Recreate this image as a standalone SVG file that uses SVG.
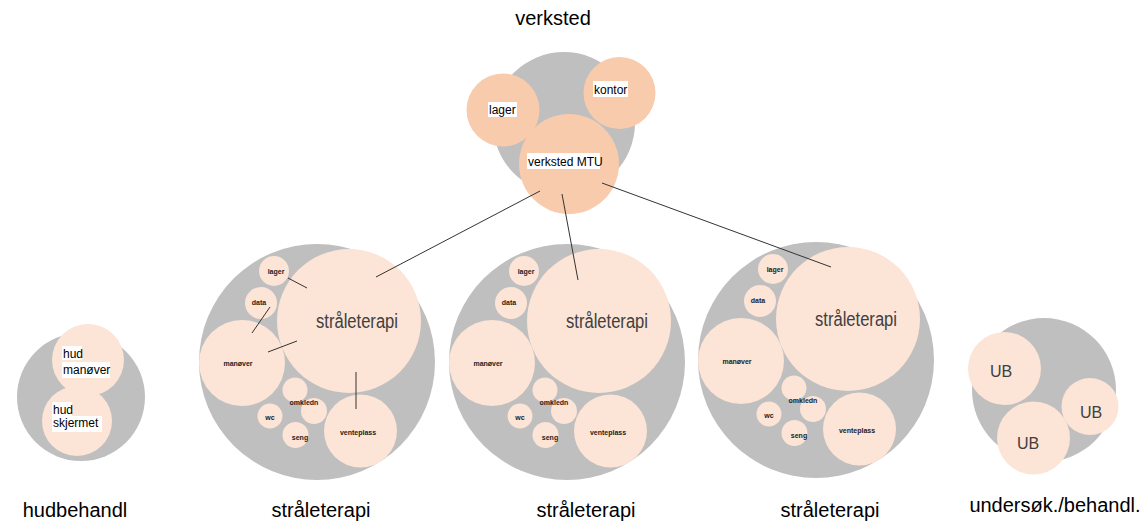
<svg xmlns="http://www.w3.org/2000/svg" width="1144" height="524" viewBox="0 0 1144 524">
<style>
.g{fill:#bfbfbf}
.p1{fill:#f8cbad}
.p2{fill:#fce4d6}
.t{font-family:"Liberation Sans",Arial,sans-serif;fill:#000}
.title{font-size:20px;text-anchor:middle}
.lab{font-size:12px}
.sm{font-size:7px;font-weight:bold;text-anchor:middle;fill:#222}
.big{font-size:20px;text-anchor:middle;fill:#404040}
.ub{font-size:16px;text-anchor:middle;fill:#404040}
.bg{fill:#fff}
.c{stroke:#333;stroke-width:1;fill:none}
</style>
<defs>
<g id="cl">
<circle class="g" cx="317" cy="362" r="118"/>
<circle class="p2" cx="349" cy="321" r="72"/>
<circle class="p2" cx="274" cy="271" r="15"/>
<circle class="p2" cx="261" cy="303" r="16"/>
<circle class="p2" cx="242" cy="363" r="43"/>
<circle class="p2" cx="295" cy="390" r="12.5"/>
<circle class="p2" cx="314" cy="411" r="13"/>
<circle class="p2" cx="270" cy="416" r="12.5"/>
<circle class="p2" cx="295.5" cy="435" r="13"/>
<circle class="p2" cx="360.5" cy="431" r="36.5"/>
<text class="t big" x="357" y="328" textLength="82" lengthAdjust="spacingAndGlyphs">stråleterapi</text>
<text class="t sm" x="276" y="274">lager</text>
<text class="t sm" x="259" y="305">data</text>
<text class="t sm" x="238" y="366">manøver</text>
<text class="t sm" x="304" y="405">omkledn</text>
<text class="t sm" x="270" y="420">wc</text>
<text class="t sm" x="300" y="440">seng</text>
<text class="t sm" x="358" y="435">venteplass</text>
</g>
</defs>
<text class="t title" x="553" y="25">verksted</text>
<g id="verksted">
<circle class="g" cx="564" cy="123" r="71"/>
<circle class="p1" cx="503" cy="110" r="36.5"/>
<circle class="p1" cx="619.5" cy="93" r="36"/>
<circle class="p1" cx="569" cy="164" r="50"/>
<rect class="bg" x="488" y="102" width="29" height="15"/>
<text class="t lab" x="489" y="114">lager</text>
<rect class="bg" x="593" y="81" width="35" height="16"/>
<text class="t lab" x="594" y="94">kontor</text>
<rect class="bg" x="527" y="153" width="73" height="16"/>
<text class="t lab" x="528" y="166">verksted MTU</text>
</g>
<g id="hudbehandl">
<circle class="g" cx="81" cy="397" r="64"/>
<circle class="p2" cx="88" cy="360" r="36"/>
<circle class="p2" cx="77" cy="421" r="35"/>
<rect class="bg" x="62" y="346" width="20" height="14"/>
<rect class="bg" x="62" y="362" width="48" height="16"/>
<text class="t lab" x="63" y="358">hud</text>
<text class="t lab" x="63" y="374">manøver</text>
<rect class="bg" x="52" y="402" width="20" height="14"/>
<rect class="bg" x="52" y="416" width="50" height="16"/>
<text class="t lab" x="53" y="414">hud</text>
<text class="t lab" x="53" y="427">skjermet</text>
<text class="t title" x="75" y="517">hudbehandl</text>
</g>
<g id="straleterapi1">
<use href="#cl"/>
<text class="t title" x="321" y="517">stråleterapi</text>
</g>
<g id="straleterapi2">
<use href="#cl" transform="translate(250,0)"/>
<text class="t title" x="586" y="517">stråleterapi</text>
</g>
<g id="straleterapi3">
<use href="#cl" transform="translate(499,-2)"/>
<text class="t title" x="830" y="517">stråleterapi</text>
</g>
<g id="undersok">
<circle class="g" cx="1044" cy="390" r="72"/>
<circle class="p2" cx="1004.5" cy="368.5" r="36.5"/>
<circle class="p2" cx="1090" cy="406.5" r="28.5"/>
<circle class="p2" cx="1033.5" cy="438" r="36.5"/>
<text class="t ub" x="1001" y="377">UB</text>
<text class="t ub" x="1091" y="418">UB</text>
<text class="t ub" x="1028" y="449">UB</text>
<text class="t title" x="1055" y="512">undersøk./behandl.</text>
</g>
<g id="connectors">
<line class="c" x1="540" y1="191" x2="376" y2="277"/>
<line class="c" x1="562" y1="194" x2="578" y2="280"/>
<line class="c" x1="602" y1="183" x2="831" y2="267"/>
<line class="c" x1="288" y1="278" x2="307" y2="288"/>
<line class="c" x1="270" y1="307" x2="252" y2="333"/>
<line class="c" x1="268" y1="352" x2="297" y2="341"/>
<line class="c" x1="356" y1="372" x2="356" y2="409"/>
</g>
</svg>
